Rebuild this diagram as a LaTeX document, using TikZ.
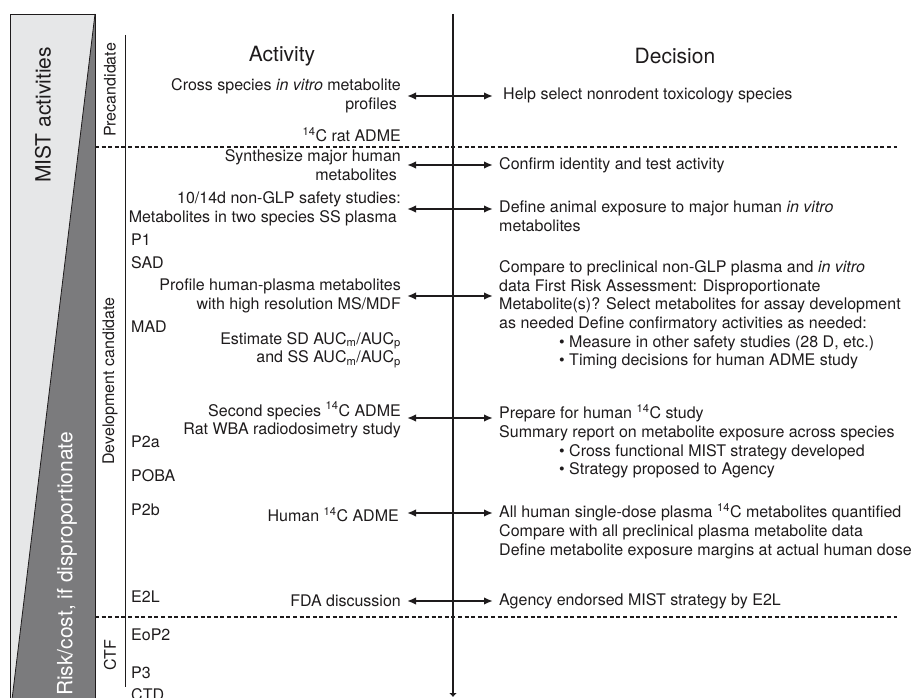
\documentclass[tikz,border=0pt]{standalone}
\usepackage{fontspec}
\setmainfont{TeX Gyre Heros}
\usetikzlibrary{arrows.meta}
\definecolor{inkgray}{HTML}{1E1B1C}
\definecolor{panellight}{HTML}{E6E7E8}
\definecolor{paneldark}{HTML}{7B7B7D}
\newcommand{\cfourteen}{\textsuperscript{14}C}
\newcommand{\aucratio}{AUC\textsubscript{m}/AUC\textsubscript{p}}

\begin{document}
\begin{tikzpicture}[
  x=1pt, y=-1pt,
  every node/.style={inner sep=0pt, text=inkgray, font=\fontsize{16}{18.6}\selectfont},
  act/.style={anchor=east, align=right},
  dec/.style={anchor=west, align=left},
  decblock/.style={anchor=north west, align=left},
  stage/.style={anchor=west},
  phase/.style={rotate=90},
  header/.style={font=\fontsize{21}{24}\selectfont},
  link/.style={{Latex[length=9pt,width=7.5pt]}-{Latex[length=9pt,width=7.5pt]}, line width=2pt, draw=inkgray},
  divider/.style={draw=inkgray, line width=1.2pt, dash pattern=on 4pt off 2.6pt}
]
\useasboundingbox (0,0) rectangle (914,698);

% left panel
\fill[panellight] (10,14) rectangle (95,712);
\fill[paneldark] (95,14) -- (95,712) -- (10.5,712) -- cycle;
\draw[inkgray, line width=0.8pt] (10,712) -- (10,14) -- (95,14) -- (95,712);
\draw[inkgray, line width=0.8pt] (95,14) -- (10.5,712);
\node[phase, header] (mist) at (43,115) {MIST activities};
\node[phase, header, text=white] (risk) at (67,564) {Risk/cost, if disproportionate};

% phases
\node[phase] (pre) at (110,90) {Precandidate};
\node[phase] (dev) at (110,381) {Development candidate};
\node[phase] (ctf) at (110,655) {CTF};
\draw[inkgray, line width=1pt] (125.5,35) -- (125.5,687);

% dividers and time axis
\draw[divider] (95,147) -- (897,147);
\draw[divider] (95,617) -- (897,617);
\coordinate (axtop) at (453,14);
\coordinate (axbot) at (453,697);
\draw[line width=2pt, draw=inkgray, -{Latex[length=4pt,width=8pt]}] (axtop) -- (axbot);

% headers
\node[header] (hact) at (282,56) {Activity};
\node[header] (hdec) at (675,56) {Decision};

% stages
\node[stage] (p1) at (131,240) {P1};
\node[stage] (sad) at (131,263) {SAD};
\node[stage] (mad) at (131,327) {MAD};
\node[stage] (p2a) at (131,442) {P2a};
\node[stage] (poba) at (131,476) {POBA};
\node[stage] (p2b) at (131,510) {P2b};
\node[stage] (e2l) at (131,597) {E2L};
\node[stage] (eop2) at (131,635) {EoP2};
\node[stage] (p3) at (131,673) {P3};
\node[stage] (ctd) at (131,695) {CTD};

% activities
\node[act] (a1) at (401,96) {Cross species \textit{in vitro} metabolite\\profiles\hspace*{4pt}};
\node[act] (a2) at (401,135) {\cfourteen{} rat ADME};
\node[act] (a3) at (401,165) {Synthesize major human\\metabolites\hspace*{4pt}};
\node[act] (a4) at (401,209) {10/14d non-GLP safety studies:\\Metabolites in two species SS plasma\hspace*{4pt}};
\node[act] (a5) at (401,296) {Profile human-plasma metabolites\\with high resolution MS/MDF};
\node[act] (a6) at (401,350) {Estimate SD \aucratio\\and SS \aucratio};
\node[act] (a7) at (401,420) {Second species \cfourteen{} ADME\\Rat WBA radiodosimetry study};
\node[act] (a8) at (399,515) {Human \cfourteen{} ADME};
\node[act] (a9) at (401,601) {FDA discussion};

% decisions
\node[dec] (d1) at (503,95) {Help select nonrodent toxicology species};
\node[dec] (d2) at (499,165) {Confirm identity and test activity};
\node[decblock] (d3) at (499,200.5) {Define animal exposure to major human \textit{in vitro}\\metabolites};
\node[decblock] (d4) at (499,260.5) {Compare to preclinical non-GLP plasma and \textit{in vitro}\\data First Risk Assessment: Disproportionate\\Metabolite(s)? Select metabolites for assay development\\as needed Define confirmatory activities as needed:\\\hspace*{60pt}\textbullet{} Measure in other safety studies (28 D, etc.)\\\hspace*{60pt}\textbullet{} Timing decisions for human ADME study};
\node[decblock] (d5) at (499,404.5) {Prepare for human \cfourteen{} study\\Summary report on metabolite exposure across species\\\hspace*{60pt}\textbullet{} Cross functional MIST strategy developed\\\hspace*{60pt}\textbullet{} Strategy proposed to Agency};
\node[decblock] (d6) at (499,503.5) {All human single-dose plasma \cfourteen{} metabolites quantified\\Compare with all preclinical plasma metabolite data\\Define metabolite exposure margins at actual human dose};
\node[dec] (d7) at (499,601) {Agency endorsed MIST strategy by E2L};

% links
\draw[link] ([xshift=6pt]a1.east) -- ([xshift=-10pt]a1.east -| d1.west);
\draw[link] ([xshift=6pt]a3.east) -- ([xshift=-6pt]a3.east -| d2.west);
\draw[link] ([xshift=6pt]a4.east) -- ([xshift=-6pt]a4.east -| d3.west);
\draw[link] ([xshift=6pt]a5.east) -- ([xshift=-6pt]a5.east -| d4.west);
\draw[link] ([xshift=6pt,yshift=2pt]a7.east) -- ([xshift=-6pt,yshift=2pt]a7.east -| d5.west);
\draw[link] ([xshift=8pt,yshift=2pt]a8.east) -- ([xshift=-6pt,yshift=2pt]a8.east -| d6.west);
\draw[link] ([xshift=6pt]a9.east) -- ([xshift=-6pt]a9.east -| d7.west);
\end{tikzpicture}
\end{document}
